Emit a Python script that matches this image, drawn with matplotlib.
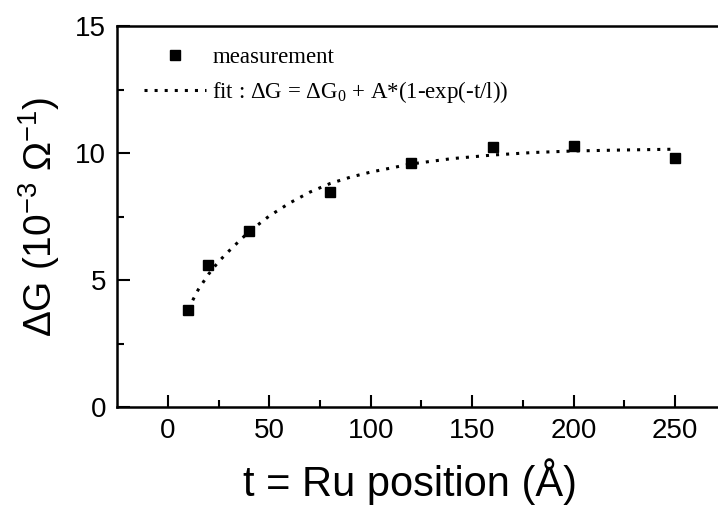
import matplotlib
matplotlib.use('Agg')
import matplotlib.pyplot as plt

# measured points
t_meas = [10, 20, 40, 80, 120, 160, 200, 250]
dG_meas = [3.82, 5.59, 6.94, 8.45, 9.62, 10.25, 10.28, 9.80]

# fit curve
t_fit = [10, 15, 20, 25, 30, 35, 40, 50, 60, 70, 80, 90, 100, 120, 140, 160, 180, 200, 225, 250]
dG_fit = [3.85, 4.62, 5.22, 5.72, 6.13, 6.52, 6.90, 7.52, 8.03, 8.46, 8.80, 9.05, 9.25,
          9.57, 9.78, 9.92, 10.02, 10.08, 10.12, 10.15]

xticks = [0, 50, 100, 150, 200, 250]
yticks = [0, 5, 10, 15]

plt.rcParams['font.family'] = ['Liberation Sans', 'DejaVu Sans']
plt.rcParams['mathtext.fontset'] = 'custom'
plt.rcParams['mathtext.rm'] = 'Liberation Sans'
plt.rcParams['mathtext.it'] = 'Liberation Sans'

fig = plt.figure(figsize=(7.18, 5.05), dpi=100)
ax = fig.add_axes([0.163, 0.194, 0.848, 0.7545])

ax.plot(t_meas, dG_meas, 's', color='black', ms=6.5, label='measurement')
ax.plot(t_fit, dG_fit, color='black', lw=2.2, linestyle=(0, (1, 2.3)),
        label=r'fit : ΔG = ΔG$_{\mathregular{0}}$ + A*(1-exp(-t/l))')

ax.set_xlim(-25, 275)
ax.set_ylim(0, 15)
ax.set_xticks(xticks)
ax.set_yticks(yticks)
ax.set_xticks([25, 75, 125, 175, 225], minor=True)
ax.set_yticks([2.5, 7.5, 12.5], minor=True)
ax.tick_params(which='both', direction='in', width=1.5, labelsize=20, top=False, right=False)
ax.tick_params(which='major', length=9, pad=8)
ax.tick_params(which='minor', length=5)
for s in ax.spines.values():
    s.set_linewidth(1.8)

ax.set_xlabel('t = Ru position (Å)', fontsize=30)
ax.xaxis.set_label_coords(0.481, -0.135)
ax.set_ylabel(r'ΔG (10$^{\mathregular{-3}}$ Ω$^{\mathregular{-1}}$)', fontsize=28, labelpad=9)

leg = ax.legend(loc='upper left', frameon=False, bbox_to_anchor=(0.01, 1.0),
                prop={'family': 'Liberation Serif', 'size': 16.5},
                handlelength=2.7, handletextpad=0.3, labelspacing=0.5)
plt.savefig('out.png', dpi=100)
